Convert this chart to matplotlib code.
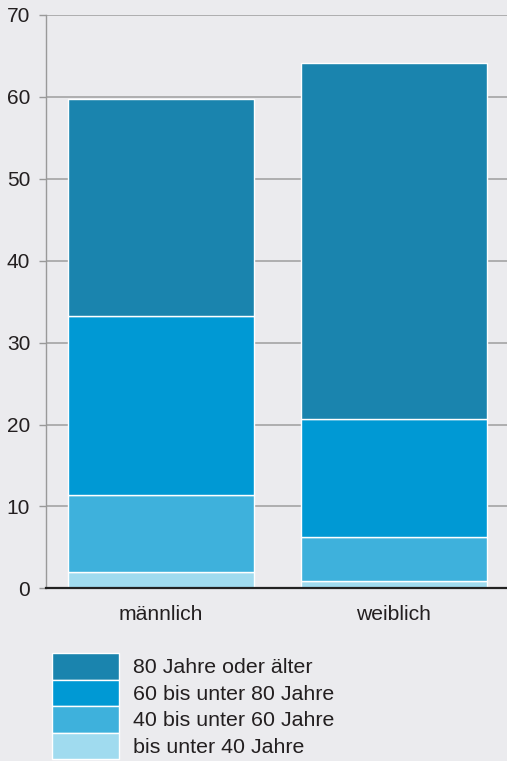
import matplotlib
matplotlib.use("Agg")
import matplotlib.pyplot as plt
import numpy as np

categories = ["männlich", "weiblich"]
series_labels = ["bis unter 40 Jahre", "40 bis unter 60 Jahre", "60 bis unter 80 Jahre", "80 Jahre oder älter"]
v_u40 = [1.95, 0.9]
v_40_60 = [9.45, 5.35]
v_60_80 = [21.8, 14.45]
v_80p = [26.6, 43.5]
series_values = [v_u40, v_40_60, v_60_80, v_80p]
colors = ["#a0dbef", "#3eb1dc", "#0099d4", "#1a84ae"]
yticks = [0, 10, 20, 30, 40, 50, 60, 70]

bg = "#ebebee"
txt = "#231f20"
plt.rcParams['font.family'] = ['Liberation Sans', 'DejaVu Sans']

fig = plt.figure(figsize=(5.07, 7.61), dpi=100, facecolor=bg)
ax = fig.add_axes([45.5/507, 1-588.3/761, 1-45.5/507, (588.3-15)/761])
ax.set_facecolor(bg)

x = np.arange(len(categories))
bottom = np.zeros(len(categories))
handles = []
for vals, col, lab in zip(series_values, colors, series_labels):
    b = ax.bar(x, vals, width=0.8, bottom=bottom, color=col, edgecolor="white", linewidth=1.0, label=lab, zorder=3)
    handles.append(b)
    bottom += np.array(vals)

ax.set_xlim(-0.497, 1.488)
ax.set_ylim(0, 70)
ax.set_yticks(yticks)
ax.set_xticks(x)
ax.set_xticklabels(categories, fontsize=15.2, color=txt)
ax.tick_params(axis='x', length=0, pad=12)
ax.tick_params(axis='y', length=5, width=1, color="#999999", pad=6.0, labelsize=15, labelcolor=txt)
ax.yaxis.grid(True, color="#a4a4a4", linewidth=1.2, zorder=0)
ax.set_axisbelow(True)
for s in ["top", "right"]:
    ax.spines[s].set_visible(False)
ax.spines["left"].set_color("#999999")
ax.spines["left"].set_linewidth(1)
ax.spines["bottom"].set_color("#222222")
ax.spines["bottom"].set_linewidth(1.6)
ax.spines["bottom"].set_zorder(4)

fs = 15.4
fspx = fs * 100 / 72
leg = fig.legend(handles[::-1], series_labels[::-1], loc="upper left",
                 bbox_to_anchor=(52/507, 1-653/761), frameon=False, borderpad=0,
                 borderaxespad=0, fontsize=fs, handlelength=67/fspx, handleheight=1.535,
                 labelspacing=0, handletextpad=14/fspx, labelcolor=txt)
for p in leg.get_patches():
    p.set_edgecolor("white")
    p.set_linewidth(1)

fig.savefig("out.png", dpi=100, facecolor=bg)
